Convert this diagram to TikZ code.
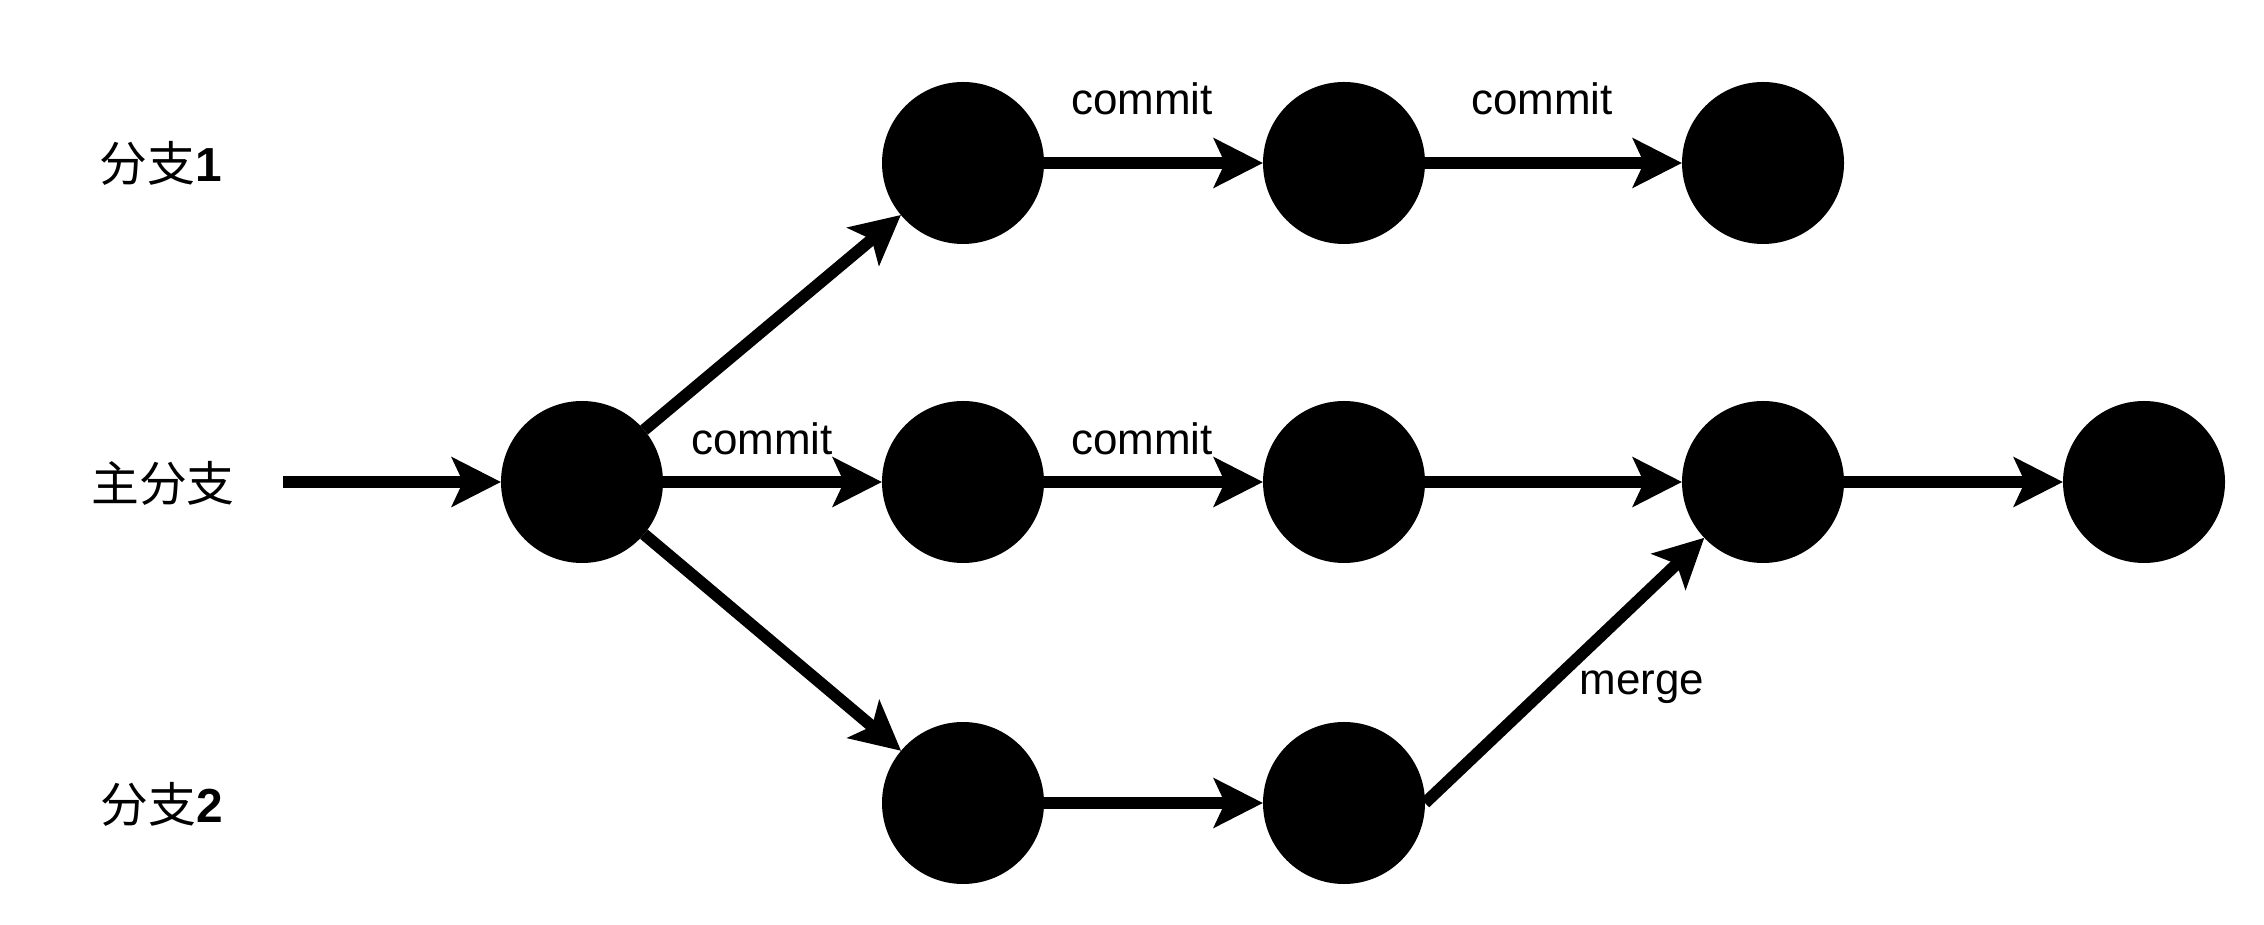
\documentclass[tikz,border=0pt]{standalone}
\usepackage{fontspec}
\setmainfont{Liberation Sans}
\newfontfamily\cjk{Noto Sans CJK SC}
\usepackage{tikz}
\usetikzlibrary{arrows.meta, positioning}

\begin{document}
\begin{tikzpicture}[
    node distance=2.19cm,
    commitnode/.style={circle, fill=black, minimum size=1.62cm, inner sep=0pt, outer sep=0pt},
    arrow/.style={-{Stealth[length=0.49cm, width=0.49cm, inset=0.11cm]}, line width=3.4pt},
    lbl/.style={font=\fontsize{12.5}{15}\selectfont, inner sep=0pt, anchor=base},
    rowlabel/.style={font=\fontsize{13.6}{16}\selectfont, inner sep=0pt}
]
\useasboundingbox (0,0) rectangle (22.64,9.24);

% Main branch
\node[commitnode] (m1) at (5.82,4.42) {};
\node[commitnode, right=of m1] (m2) {};
\node[commitnode, right=of m2] (m3) {};
\node[commitnode, right=2.57cm of m3] (m4) {};
\node[commitnode, right=of m4] (m5) {};

% Branch 1
\node[commitnode, above=1.57cm of m2] (t1) {};
\node[commitnode, above=1.57cm of m3] (t2) {};
\node[commitnode, above=1.57cm of m4] (t3) {};

% Branch 2
\node[commitnode, below=1.59cm of m2] (b1) {};
\node[commitnode, below=1.59cm of m3] (b2) {};

% Row names
\node[rowlabel] (lb1) at (1.61,7.61) {{\cjk 分支}\textbf{1}};
\node[rowlabel] (lmain) at (1.63,4.41) {\cjk 主分支};
\node[rowlabel] (lb2) at (1.62,1.20) {{\cjk 分支}\textbf{2}};
\coordinate (start) at (2.83,4.42);

\draw[arrow] (start) -- (m1);
\draw[arrow] (m1) -- (m2);
\draw[arrow] (m2) -- (m3);
\draw[arrow] (m3) -- (m4);
\draw[arrow] (m4) -- (m5);
\draw[arrow] (m1) -- (t1);
\draw[arrow] (m1) -- (b1);
\draw[arrow] (t1) -- (t2);
\draw[arrow] (t2) -- (t3);
\draw[arrow] (b1) -- (b2);
\draw[arrow] (b2.east) -- (m4);

% Edge labels
\node[lbl] (c1) at (7.62,4.69) {commit};
\node[lbl] (c2) at (11.42,4.69) {commit};
\node[lbl] (c3) at (11.42,8.09) {commit};
\node[lbl] (c4) at (15.42,8.09) {commit};
\node[lbl] (mg) at (16.42,2.29) {merge};

\end{tikzpicture}
\end{document}
